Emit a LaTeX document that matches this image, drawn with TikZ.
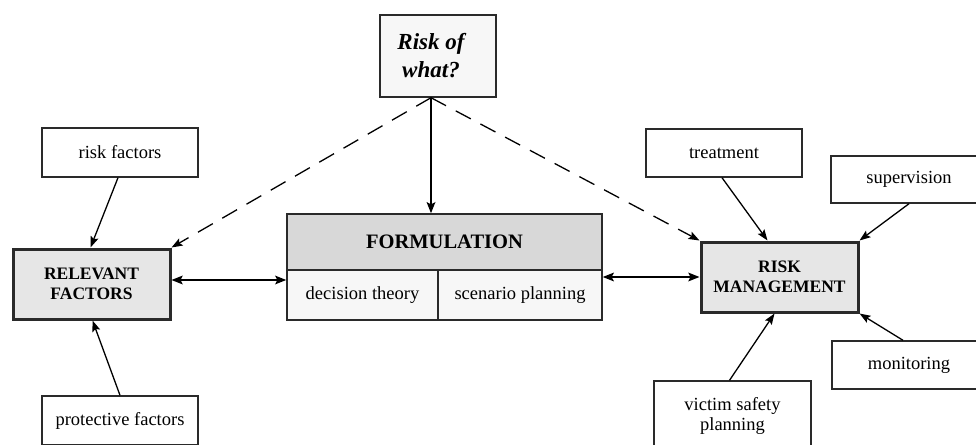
\documentclass[tikz,border=0pt]{standalone}
\usepackage{fontspec}
\setmainfont{Liberation Serif}
\usetikzlibrary{arrows.meta}
\definecolor{boxline}{HTML}{2A2A2A}
\definecolor{headfill}{HTML}{D8D8D8}
\definecolor{cellfill}{HTML}{F7F7F7}
\definecolor{keyfill}{HTML}{E6E6E6}
\tikzset{
  plainbox/.style={draw=boxline, line width=1.4pt, fill=white, inner sep=0pt,
    align=center, font=\fontsize{18.5}{20}\selectfont},
  keybox/.style={draw=boxline, line width=3pt, fill=keyfill, inner sep=0pt,
    align=center, font=\fontsize{17.5}{20}\selectfont\bfseries},
  headbox/.style={draw=boxline, line width=1.4pt, fill=headfill, inner sep=0pt,
    font=\fontsize{20.5}{22}\selectfont\bfseries},
  cellbox/.style={draw=boxline, line width=1.4pt, fill=cellfill, inner sep=0pt,
    font=\fontsize{18.5}{20}\selectfont},
  questbox/.style={draw=boxline, line width=1.4pt, fill=cellfill, inner sep=0pt,
    align=center, font=\fontsize{23}{28}\selectfont\bfseries\itshape},
  thinarrow/.style={draw=black, line width=1.3pt, -{Stealth[length=11pt,width=8pt,inset=2pt]}},
  thickarrow/.style={draw=black, line width=2.5pt, -{Stealth[length=11pt,width=8.5pt,inset=2pt]}},
  bothways/.style={draw=black, line width=2.5pt, {Stealth[length=11pt,width=8.5pt,inset=2pt]}-{Stealth[length=11pt,width=8.5pt,inset=2pt]}},
  dasharrow/.style={draw=black, line width=1.3pt, dash pattern=on 17pt off 11pt,
    -{Stealth[length=11pt,width=8pt,inset=2pt]}},
}
\begin{document}
\begin{tikzpicture}[x=1pt, y=-1pt]
\useasboundingbox (0,0) rectangle (976,444);

% central question
\node[questbox, minimum width=116pt, minimum height=82pt] (what) at (438,56)
  {\hspace*{-14pt}Risk of\\\hspace*{-14pt}what?};

% formulation block: header and two cells
\node[headbox, minimum width=315pt, minimum height=56pt] (hdr) at (444.5,242) {FORMULATION};
\node[cellbox, minimum width=151pt, minimum height=50pt] (dec) at (362.5,295) {decision theory};
\node[cellbox, minimum width=164pt, minimum height=50pt] (scen) at (520,295) {scenario planning};

% the two key boxes
\node[keybox, minimum width=157pt, minimum height=70pt] (rf) at (91.5,284) {RELEVANT\\FACTORS};
\node[keybox, minimum width=157pt, minimum height=70pt] (rm) at (779.5,277) {RISK\\MANAGEMENT};

% surrounding boxes
\node[plainbox, minimum width=156pt, minimum height=49pt] (riskf) at (120,152.5) {risk factors};
\node[plainbox, minimum width=156pt, minimum height=49pt] (prot) at (120,420.5) {protective factors};
\node[plainbox, minimum width=156pt, minimum height=48pt] (treat) at (724,153) {treatment};
\node[plainbox, minimum width=156pt, minimum height=47pt] (superv) at (909,179.5) {supervision};
\node[plainbox, minimum width=154pt, minimum height=48pt] (monit) at (909,365) {monitoring};
\node[plainbox, minimum width=157pt, minimum height=70pt] (victim) at (732.5,416) {victim safety\\planning};

% connectors from the question
\coordinate (apex) at ([xshift=-7pt]what.south);
\draw[thickarrow] (apex) -- (apex |- hdr.north);
\draw[dasharrow] (apex) -- (rf.north east);
\draw[dasharrow] (apex) -- (rm.north west);

% links to the formulation block
\draw[bothways] ([yshift=4pt]rf.east) -- ([yshift=4pt]rf.east -| dec.west);
\draw[bothways] (rm.west -| scen.east) -- (rm.west);

% inputs to relevant factors
\draw[thinarrow] ([xshift=-2pt]riskf.south) -- ([xshift=-1pt]rf.north);
\draw[thinarrow] (prot.north) -- ([xshift=1pt]rf.south);

% inputs to risk management
\draw[thinarrow] ([xshift=-2pt]treat.south) -- ([xshift=-12pt]rm.north);
\draw[thinarrow] (superv.south) -- (rm.north east);
\draw[thinarrow] ([xshift=-6pt]monit.north) -- (rm.south east);
\draw[thinarrow] ([xshift=-3pt]victim.north) -- ([xshift=-5pt]rm.south);
\end{tikzpicture}
\end{document}
